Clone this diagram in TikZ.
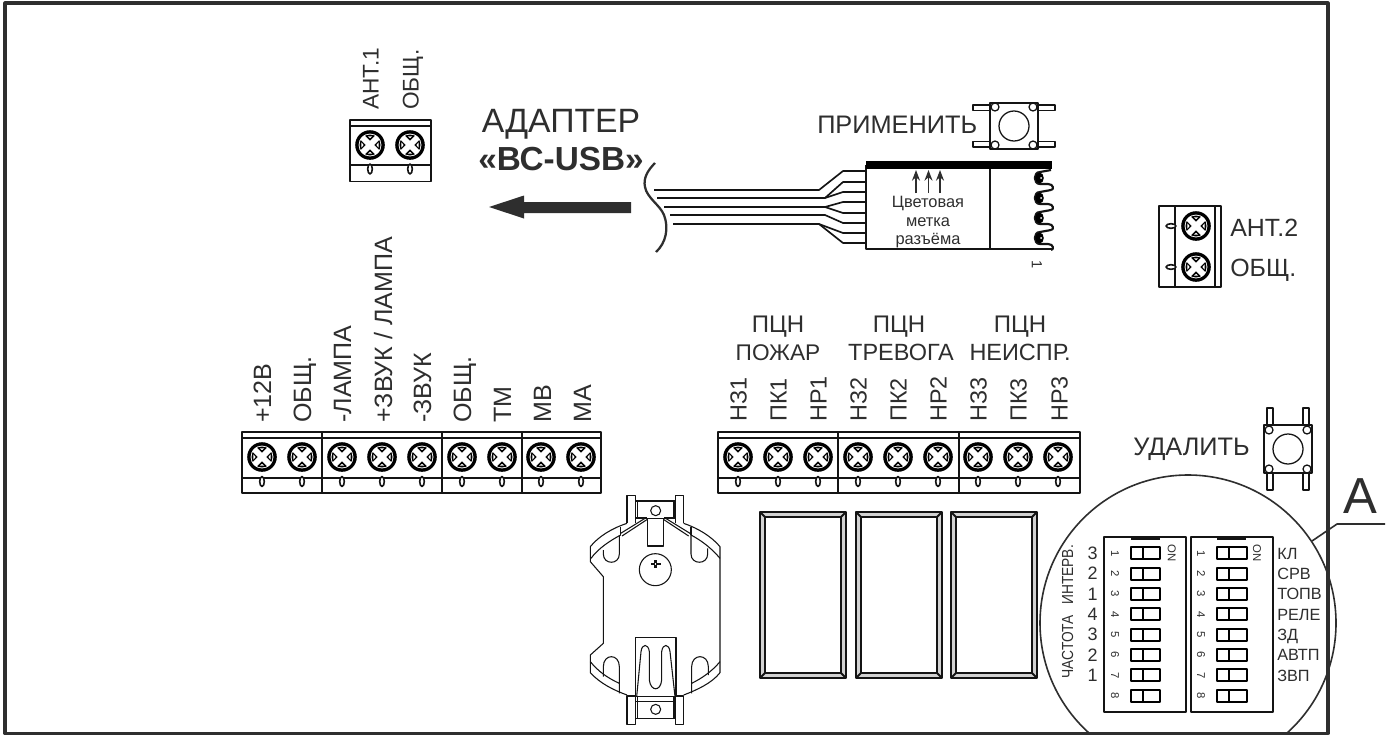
\documentclass[tikz,border=0pt]{standalone}
\usepackage{fontspec}
\setmainfont{Liberation Sans}
\usetikzlibrary{arrows.meta}
\definecolor{txt}{HTML}{2E2E2E}
\definecolor{ink}{HTML}{141414}
\newcommand{\fsz}[1]{\fontsize{#1}{#1}\selectfont}
\tikzset{
  lab/.style={inner sep=0pt,text=txt,font=\fsz{17}},
  vlab/.style={lab,rotate=90,anchor=base west},
  vlabbig/.style={vlab,font=\fsz{18.8}},
  hlab/.style={lab,anchor=base},
  hlabwide/.style={hlab,font=\fsz{17.6}},
  hleft/.style={lab,anchor=base west},
  smalllab/.style={inner sep=0pt,text=txt,font=\fsz{12.3},anchor=base},
  dipnum/.style={inner sep=0pt,text=txt,font=\fsz{8.5},rotate=-90,anchor=center},
  diplab/.style={inner sep=0pt,text=txt,font=\fsz{12.2},anchor=base west},
  thick line/.style={draw=ink,line width=1.7pt},
  mid line/.style={draw=ink,line width=1.4pt},
  wire line/.style={draw=ink,line width=1.25pt},
  thin line/.style={draw=ink,line width=0.95pt},
  oval/.style={draw=ink,line width=1.2pt,fill=white},
  screw/.pic={
    \fill[black] (0,0) circle (14.8);
    \fill[white] (0,0) circle (11.4);
    \fill[black] (0,0) circle (10.5);
    \fill[white,rotate=45] (-11,-2.9) rectangle (11,2.9);
    \fill[white,rotate=-45] (-11,-2.9) rectangle (11,2.9);
    \fill[white] (-8.6,-2.6) -- (-8.6,2.6) -- (-6.4,0) -- cycle;
    \fill[white] (8.6,-2.6) -- (8.6,2.6) -- (6.4,0) -- cycle;
    \fill[white] (-2,-8.6) -- (2,-8.6) -- (0,-6.8) -- cycle;
    \fill[white] (-2,8.6) -- (2,8.6) -- (0,6.8) -- cycle;
  },
}
\begin{document}
\begin{tikzpicture}[x=0.75pt,y=-0.75pt,line join=round]
\useasboundingbox (0,0) rectangle (1394,736);
\fill[white] (0,0) rectangle (1394,736);
% frame
\draw[draw=txt,line width=2.3pt] (5,3) rectangle (1328,733.5);

% main terminal blocks
\foreach \xa/\xb in {242/322,322/442,442/522,522/601,718/838,838/959,959/1080}{
  \draw[mid line] (\xa,432) rectangle (\xb,493);
}
\draw[mid line] (242,438) -- (601,438) (242,478) -- (601,478);
\draw[mid line] (718,438) -- (1080,438) (718,478) -- (1080,478);
\foreach \x in {262,302,342,382,422,462,502,541,581,738,778,818,858,898,938,978,1018,1058}{
  \pic at (\x,457) {screw};
  \draw[oval] (\x,481.5) ellipse (2.3 and 5);
}
% labels of left block
\foreach \n/\x/\t in {a/262/+12В,b/302/ОБЩ.,c/342/-ЛАМПА,d/383/{+ЗВУК / ЛАМПА},e/422/-ЗВУК,f/462/ОБЩ.,g/502/ТМ,h/542/МВ,i/582/МА}{
  \node[vlabbig] (left\n) at (\x+9,423) {\t};
}
% labels of right block
\foreach \n/\x/\t in {a/738/НЗ1,b/778/ПК1,c/818/НР1,d/858/НЗ2,e/898/ПК2,f/938/НР2,g/978/НЗ3,h/1018/ПК3,i/1059/НР3}{
  \node[vlab,font=\fsz{17.5}] (right\n) at (\x+8.5,422) {\t};
}
\node[hlab,font=\fsz{18}] (pcn1) at (778,332) {ПЦН};
\node[hlab,font=\fsz{18}] (pcn2) at (899,332) {ПЦН};
\node[hlab,font=\fsz{18}] (pcn3) at (1020,332) {ПЦН};
\node[hlab] (fire) at (778,360) {ПОЖАР};
\node[hlabwide] (alarm) at (901,360) {ТРЕВОГА};
\node[hlabwide] (fault) at (1020,360) {НЕИСПР.};

% ANT.1 block
\draw[mid line] (350,120) rectangle (431,181.5);
\draw[mid line] (350,125.7) -- (431,125.7) (350,165) -- (431,165);
\foreach \x in {370,410}{
  \pic at (\x,145) {screw};
  \draw[oval] (\x,169) ellipse (2.3 and 5);
}
\node[vlab] (ant1) at (378.5,110) {АНТ.1};
\node[vlab] (com1) at (418.5,110) {ОБЩ.};

% ANT.2 block
\draw[mid line] (1159,206) rectangle (1221,287);
\draw[mid line] (1175,206) -- (1175,287) (1215,206) -- (1215,287);
\foreach \y in {226,267}{
  \pic at (1196,\y) {screw};
  \draw[oval] (1171,\y) ellipse (5 and 2.3);
}
\node[hleft,font=\fsz{18.7}] (ant2) at (1230,236) {АНТ.2};
\node[hleft,font=\fsz{18.7}] (com2) at (1230,276) {ОБЩ.};

% adapter
\node[lab,anchor=base,font=\fsz{25.3}] (adapter) at (561,132.5) {АДАПТЕР};
\node[lab,anchor=base,font=\fsz{25}\bfseries] (usb) at (561,170) {«ВС-USB»};
\fill[txt] (631,202) -- (524,202) -- (524,195.5) -- (489,207) -- (524,218.5) -- (524,213) -- (631,213) -- cycle;
\draw[thick line,draw=txt] (655,163) .. controls (648,170) and (643,178) .. (645,187)
   .. controls (647,198) and (660,205) .. (664,215)
   .. controls (669,228) and (666,243) .. (656,252);

% wires
\draw[wire line] (654,190) -- (819,190) -- (843,171) -- (866,171);
\draw[wire line] (657,198) -- (825,198) -- (843,182) -- (866,182);
\draw[wire line] (825,198) -- (843,192) -- (866,192);
\draw[thick line] (664,207) -- (825,207);
\draw[wire line] (825,207) -- (843,202) -- (866,202);
\draw[wire line] (825,207) -- (843,213) -- (866,213);
\draw[wire line] (670,215) -- (825,215) -- (843,223) -- (866,223);
\draw[wire line] (673,224) -- (819,224) -- (843,233) -- (866,233);
\draw[wire line] (819,224) -- (843,243) -- (866,243);

% connector
\draw[thick line] (866,165) -- (866,249) -- (1052,249);
\draw[thick line] (990,165) -- (990,249);
\fill[black] (866,161) rectangle (1052,168.5);
\foreach \y in {178,198,218,238}{
  \draw[line width=1.6pt,draw=ink] (1051,\y-8) -- (1040,\y-6) .. controls (1033,\y-6) and (1033,\y+6) .. (1040,\y+6)
     -- (1048,\y+6) .. controls (1054,\y+6) and (1054,\y+12) .. (1051,\y+12);
  \fill[black] (1039.5,\y) ellipse (4.3 and 5.5);
  \fill[white] (1041,\y) circle (1);
}
\foreach \x [count=\k] in {916,928.5,940}{
  \coordinate (arrs\k) at (\x,193);
  \coordinate (arre\k) at (\x,170);
  \draw[line width=1pt,draw=txt,-{Stealth[length=8pt,width=6pt]}] (arrs\k) -- (arre\k);
}
\node[smalllab] (mark1) at (928,207) {Цветовая};
\node[smalllab] (mark2) at (928,226) {метка};
\node[smalllab] (mark3) at (928,244.5) {разъёма};
\node[inner sep=0pt,text=txt,font=\fsz{11},rotate=-90] (pin1) at (1037,265) {1};

% apply button
\node[hleft,font=\fsz{19}] (apply) at (817,133) {ПРИМЕНИТЬ};
\draw[thin line] (990,103) rectangle (1038,149);
\draw[thin line] (1014,126) circle (15);
\foreach \x in {995,1033}\foreach \y in {107,145}{\draw[thin line,fill=white] (\x,\y) circle (4);}
\foreach \y in {105,141.5}{
  \draw[thin line] (973,\y) rectangle (990,\y+5.5);
  \draw[thin line] (1038,\y) rectangle (1055,\y+5.5);
}

% delete button
\node[hleft,font=\fsz{19}] (del) at (1133,455) {УДАЛИТЬ};
\draw[thin line] (1264,425) rectangle (1312,473);
\draw[thin line] (1288,449) circle (15);
\foreach \x in {1269,1307}\foreach \y in {430,469}{\draw[thin line,fill=white] (\x,\y) circle (4);}
\foreach \x in {1267,1303}{
  \draw[thin line] (\x,408) rectangle (\x+6,425);
  \draw[thin line] (\x,473) rectangle (\x+6,490);
}

% relays
\foreach \xa in {760,856,951}{
  \fill[gray!35,even odd rule] (\xa,512) rectangle (\xa+86,678) (\xa+5,517) rectangle (\xa+81,673);
  \draw[mid line] (\xa,512) rectangle (\xa+86,678);
  \draw[mid line] (\xa+5,517) rectangle (\xa+81,673);
  \draw[mid line] (\xa,512) -- (\xa+5,517) (\xa+86,512) -- (\xa+81,517) (\xa,678) -- (\xa+5,673) (\xa+86,678) -- (\xa+81,673);
}

% battery holder
\begin{scope}[shift={(580,480)},x=0.25pt,y=-0.25pt,thin line/.append style={line width=0.8pt}]
  \draw[thin line] (141,130) -- (141,47) -- (166,47) -- (166,130);
  \draw[thin line] (287,130) -- (287,47) -- (311,47) -- (311,130);
  \draw[thin line] (166,63) rectangle (287,115);
  \draw[thin line] (172,63) -- (172,115) (282,63) -- (282,115);
  \draw[mid line] (166,115) -- (200,115) (252,115) -- (287,115);
  \draw[thin line] (227,92) circle (15);
  \draw[thin line] (122,160) -- (195,115) (126,168) -- (202,118);
  \draw[thin line] (330,160) -- (257,115) (326,168) -- (250,118);
  \draw[thin line] (202,118) -- (202,198) -- (250,198) -- (250,118);
  \draw[thin line] (141,130) .. controls (95,145) and (55,170) .. (31,200) -- (31,245) -- (70,290) -- (70,490) -- (31,525) -- (31,578) .. controls (60,610) and (100,630) .. (141,645);
  \draw[thin line] (311,130) .. controls (355,145) and (395,170) .. (420,200) -- (420,578) .. controls (395,610) and (350,630) .. (311,645);
  \draw[thin line] (33,235) .. controls (55,205) and (90,182) .. (122,165);
  \draw[thin line] (420,235) .. controls (395,205) and (365,182) .. (333,165);
  \draw[thin line] (31,545) .. controls (55,575) and (85,595) .. (118,610);
  \draw[thin line] (420,545) .. controls (395,575) and (365,595) .. (335,610);
  \draw[thin line] (122,140) -- (122,165);
  \draw[thin line] (333,140) -- (333,165);
  \draw[thin line] (70,210) -- (70,222) .. controls (70,255) and (118,255) .. (118,222) -- (118,165);
  \draw[thin line] (333,165) -- (333,222) .. controls (333,255) and (383,255) .. (383,222) -- (383,205);
  \draw[thin line] (70,590) -- (70,560) .. controls (70,520) and (118,520) .. (118,560) -- (118,640);
  \draw[thin line] (335,640) -- (335,560) .. controls (335,520) and (385,520) .. (385,560) -- (385,585);
  \draw[thin line] (226,269) circle (48);
  \fill[ink] (223,240) rectangle (231,264);
  \fill[ink] (212,248) rectangle (242,256);
  \fill[white] (225,250) rectangle (229,254);
  \draw[thin line] (166,650) -- (166,472) -- (288,472) -- (288,650);
  \draw[thin line] (170,650) -- (183,515) .. controls (186,490) and (205,490) .. (208,515) -- (208,600)
     .. controls (212,635) and (242,635) .. (245,600) -- (245,515) .. controls (248,490) and (267,490) .. (270,515) -- (285,650);
  \draw[thin line] (141,733) -- (141,648) -- (166,648) -- (166,733) -- cycle;
  \draw[thin line] (287,733) -- (287,648) -- (311,648) -- (311,733) -- cycle;
  \draw[thin line] (166,650) -- (287,650) (166,665) -- (287,665) (166,715) -- (287,715);
  \draw[thin line] (172,650) -- (172,715) (282,650) -- (282,715);
  \draw[thin line] (227,688) circle (15);
\end{scope}

% zoom circle and leader
\begin{scope}
  \clip (0,0) rectangle (1394,734);
  \draw[draw=txt,line width=1.2pt] (1188,623) circle (148);
\end{scope}
\coordinate (leadA) at (1312,541);
\coordinate (leadB) at (1337,524);
\coordinate (leadC) at (1385,524);
\draw[draw=txt,line width=1.2pt] (leadA) -- (leadB) -- (leadC);
\node[lab,anchor=base,font=\fsz{38}] (letterA) at (1360.5,513) {А};

% DIP blocks
\foreach \xa/\xn/\xs/\xd/\xo in {1104/1115/1130.7/1143.3/1171.7,1191/1201/1217.3/1229.3/1257}{
  \draw[draw=ink,line width=1.2pt] (\xa,536.7) rectangle (\xa+82,711.7);
  \fill[ink] (\xs,536.7) rectangle (\xs+29,539.7);
  \foreach \i [count=\k from 0] in {1,...,8}{
    \pgfmathsetmacro{\yy}{553.3+20.33*\k}
    \draw[draw=black,line width=1.6pt] (\xs,\yy-6) rectangle (\xs+29.3,\yy+6);
    \draw[draw=black,line width=1.3pt] (\xd,\yy-6) -- (\xd,\yy+6);
    \node[dipnum] (dn\xa-\i) at (\xn,\yy) {\i};
  }
  \node[dipnum] (on\xa) at (\xo,553.3) {ON};
}
\foreach \t [count=\k from 0] in {3,2,1,4,3,2,1}{
  \pgfmathsetmacro{\yy}{559.5+20.33*\k}
  \node[inner sep=0pt,text=txt,font=\fsz{13.5},anchor=base] (hz\k) at (1092.7,\yy) {\t};
}
\node[inner sep=0pt,text=txt,font=\fsz{12},rotate=90,anchor=base west] (vf) at (1073,678.5) {\scalebox{0.86}[1]{ЧАСТОТА}};
\node[inner sep=0pt,text=txt,font=\fsz{12},rotate=90,anchor=base west] (vi) at (1073,605) {\scalebox{0.86}[1]{ИНТЕРВ.}};
\foreach \t [count=\k from 0] in {КЛ,СРВ,ТОПВ,РЕЛЕ,ЗД,АВТП,ЗВП}{
  \pgfmathsetmacro{\yy}{559.3+20.33*\k}
  \node[diplab] (fn\k) at (1277,\yy) {\t};
}
\end{tikzpicture}
\end{document}
